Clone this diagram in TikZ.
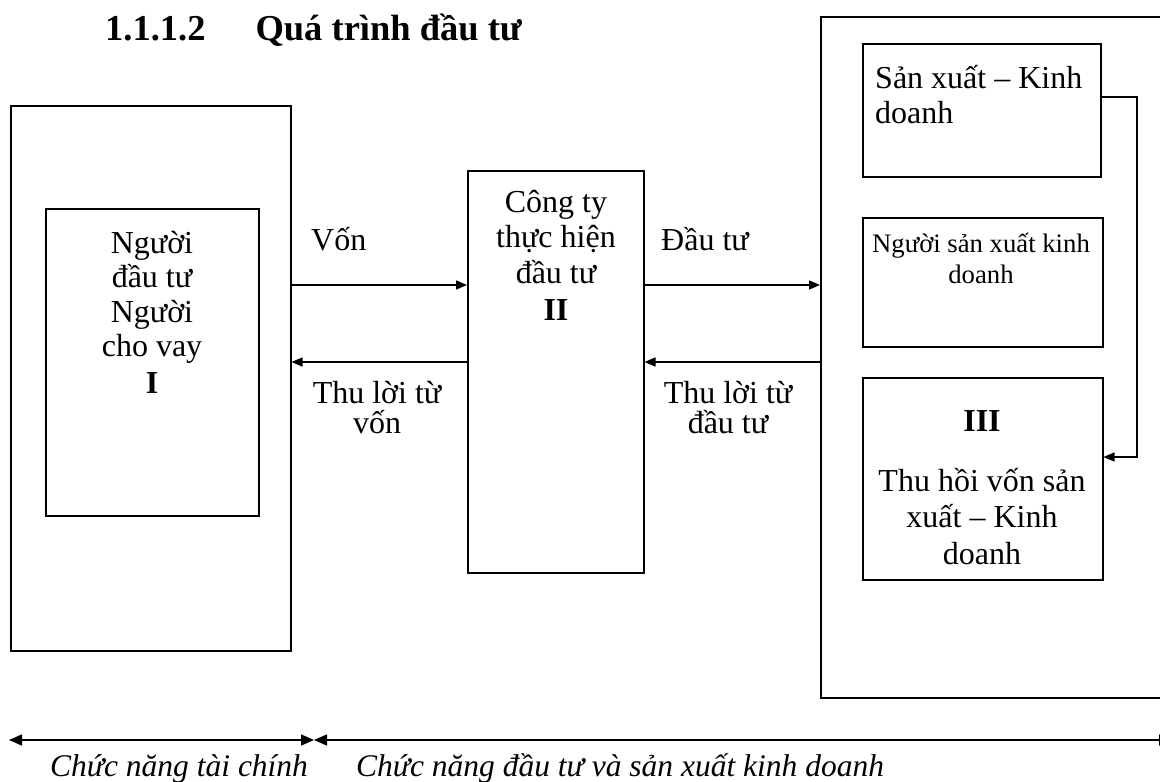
\documentclass[tikz,border=0pt]{standalone}
\usepackage{fontspec}
\setmainfont{Liberation Serif}
\usetikzlibrary{arrows.meta}
\begin{document}
\begin{tikzpicture}[x=1pt,y=-1pt,
  box/.style={draw, line width=1.5pt, inner sep=0pt, anchor=north west},
  txt/.style={inner sep=0pt, align=center, font=\fontsize{32}{35.5}\selectfont},
  small/.style={inner sep=0pt, align=center, font=\fontsize{26.7}{31}\selectfont},
  lbl/.style={inner sep=0pt, align=center, font=\fontsize{32}{30}\selectfont},
  numeral/.style={inner sep=0pt, font=\fontsize{32}{32}\selectfont\bfseries},
  spancaption/.style={inner sep=0pt, anchor=base west, font=\fontsize{31.5}{31.5}\selectfont\itshape},
  arr/.style={line width=1.5pt, -{Triangle[length=11pt,width=9pt]}},
  dbl/.style={line width=1.5pt, {Triangle[length=13pt,width=11pt]}-{Triangle[length=13pt,width=11pt]}}]
\useasboundingbox (0,0) rectangle (1160,782);
\clip (0,0) rectangle (1160,782);

% heading
\node[inner sep=0pt, anchor=base west, font=\fontsize{36.5}{36.5}\selectfont\bfseries] (title) at (105,40) {1.1.1.2\hspace{50pt}Quá trình đầu tư};

% financing side
\node[box, minimum width=280pt, minimum height=545pt] (lo) at (10,105) {};
\node[box, minimum width=213pt, minimum height=307pt] (li) at (45,208) {};
\node[txt, anchor=north, font=\fontsize{32}{34.5}\selectfont] (litxt) at (152,231) {Người\\đầu tư\\Người\\cho vay};
\node[numeral] (linum) at (152,383) {I};

% investing company
\node[box, minimum width=176pt, minimum height=402pt] (mid) at (467,170) {};
\node[txt, anchor=north] (midtxt) at (556,190) {Công ty\\thực hiện\\đầu tư};
\node[numeral] (midnum) at (556,310) {II};

% production side
\node[box, minimum width=400pt, minimum height=681pt] (ro) at (820,16) {};
\node[box, minimum width=238pt, minimum height=133pt] (sk) at (862,43) {};
\node[txt, anchor=north west, align=left] (sktxt) at (875,65) {Sản xuất – Kinh\\doanh};
\node[box, minimum width=240pt, minimum height=129pt] (ng) at (862,217) {};
\node[small, anchor=north] (ngtxt) at (981,233) {Người sản xuất kinh\\doanh};
\node[box, minimum width=240pt, minimum height=202pt] (t3) at (862,377) {};
\node[numeral] (t3num) at (982,421) {III};
\node[txt, anchor=north, font=\fontsize{32}{36.5}\selectfont] (t3txt) at (982,468) {Thu hồi vốn sản\\xuất – Kinh\\doanh};

% flows between the parties
\draw[arr] (lo.east |- 0,285) -- (mid.west |- 0,285);
\draw[arr] (mid.west |- 0,362) -- (lo.east |- 0,362);
\draw[arr] (mid.east |- 0,285) -- (ro.west |- 0,285);
\draw[arr] (ro.west |- 0,362) -- (mid.east |- 0,362);
\node[lbl, anchor=base west] (von) at (311,250) {Vốn};
\node[lbl, anchor=north] (thuvon) at (377,381) {Thu lời từ\\vốn};
\node[lbl, anchor=base west] (dautu) at (661,250) {Đầu tư};
\node[lbl, anchor=north] (thudt) at (728,381) {Thu lời từ\\đầu tư};

% recovery loop
\coordinate (bend) at (1137,97);
\draw[arr] (sk.east |- bend) -- (bend) |- (t3.east |- 0,457);

% functional spans
\coordinate (bl) at (9,740);
\coordinate (bm) at (314,740);
\coordinate (br) at (1172,740);
\draw[dbl] (bl) -- (bm);
\draw[dbl] (bm) -- (br);
\node[spancaption] (fin) at (50,776) {Chức năng tài chính};
\node[spancaption] (inv) at (356,776) {Chức năng đầu tư và sản xuất kinh doanh};
\end{tikzpicture}
\end{document}
